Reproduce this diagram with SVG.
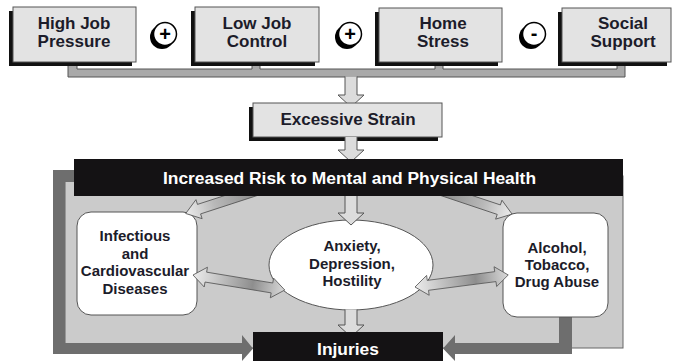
<svg xmlns="http://www.w3.org/2000/svg" width="674" height="361" viewBox="0 0 674 361">
<defs>
<linearGradient id="g1" x1="0" y1="0" x2="1" y2="0">
<stop offset="0" stop-color="#8a8a8a"/><stop offset="0.6" stop-color="#b8b8b8"/><stop offset="1" stop-color="#ececec"/>
</linearGradient>
<linearGradient id="g2" x1="0" y1="0" x2="1" y2="0">
<stop offset="0" stop-color="#ececec"/><stop offset="0.65" stop-color="#8e8e8e"/><stop offset="1" stop-color="#dadada"/>
</linearGradient>
<style>
.t{font-family:"Liberation Sans",Arial,Helvetica,sans-serif;font-weight:bold;text-anchor:middle;fill:#1c1c2a}
.top{font-size:17px}
.nd{font-size:15px}
.w{fill:#ffffff;font-size:17.4px}
.tb{fill:#e3e3e3;stroke:#555;stroke-width:1}
.sh{fill:#111}
.la{fill:#dcdcdc;stroke:#555;stroke-width:1}
.ga{fill:url(#g1);stroke:#555;stroke-width:0.8}
.da{fill:url(#g2);stroke:#555;stroke-width:0.8}
.nb{fill:#fff;stroke:#555;stroke-width:1}
.op{font-size:20px;fill:#000}
</style>
</defs>
<rect width="674" height="361" fill="#fff"/>

<!-- panel -->
<g id="panel">
<rect x="65" y="176" width="558" height="172" fill="#cbcbcb" stroke="#666" stroke-width="1"/>
</g>

<g id="connectors">
<path d="M68,62 H77 V69 H252 V62 H260 V69 H435 V62 H443 V69 H617 V62 H625 V77 H68 Z" fill="#a9a9a9" stroke="#555" stroke-width="1"/>
<path d="M53,170 H80 V182 H65 V343 H242 V335 L253,348.5 L242,361 V354 H53 Z" fill="#6e6e6e"/>
<path d="M572,312 V354 H455 V361 L443,348.5 L455,335 V343 H559 V312 Z" fill="#6e6e6e"/>
</g>

<g id="n-high">
<rect class="sh" x="9" y="11" width="123" height="55"/>
<rect class="tb" x="13" y="7" width="123" height="55"/>
<text class="t top" x="74" y="29">High Job</text>
<text class="t top" x="74" y="47">Pressure</text>
</g>
<g id="op1">
<circle cx="162" cy="37" r="12" fill="#000"/>
<circle cx="165" cy="34" r="11.5" fill="#fff" stroke="#000" stroke-width="1.5"/>
<text class="t op" x="165" y="41">+</text>
</g>
<g id="n-low">
<rect class="sh" x="191" y="11" width="124" height="55"/>
<rect class="tb" x="195" y="7" width="124" height="55"/>
<text class="t top" x="257" y="29">Low Job</text>
<text class="t top" x="257" y="47">Control</text>
</g>
<g id="op2">
<circle cx="347" cy="37" r="12" fill="#000"/>
<circle cx="350" cy="34" r="11.5" fill="#fff" stroke="#000" stroke-width="1.5"/>
<text class="t op" x="350" y="41">+</text>
</g>
<g id="n-home">
<rect class="sh" x="375" y="12" width="123" height="54"/>
<rect class="tb" x="379" y="8" width="123" height="54"/>
<text class="t top" x="443" y="29">Home</text>
<text class="t top" x="443" y="47">Stress</text>
</g>
<g id="op3">
<circle cx="531" cy="37" r="12" fill="#000"/>
<circle cx="534" cy="34" r="11.5" fill="#fff" stroke="#000" stroke-width="1.5"/>
<text class="t op" x="534" y="40">-</text>
</g>
<g id="n-social">
<rect class="sh" x="558" y="12" width="109" height="54"/>
<rect class="tb" x="562" y="8" width="109" height="54"/>
<text class="t top" x="623" y="29">Social</text>
<text class="t top" x="623" y="47">Support</text>
</g>

<g id="connectors2">
<path class="la" d="M345,76.5 V95 H338 L351,107 L364,95 H357 V76.5"/>
</g>

<g id="n-strain">
<rect class="sh" x="249" y="107" width="189" height="34"/>
<rect class="tb" x="253" y="103" width="189" height="34"/>
<text class="t top" x="348" y="125">Excessive Strain</text>
</g>

<g id="n-infect">
<rect class="nb" x="77" y="212" width="120" height="103" rx="14"/>
<text class="t nd" x="135" y="241">Infectious</text>
<text class="t nd" x="135" y="258.5">and</text>
<text class="t nd" x="135" y="276">Cardiovascular</text>
<text class="t nd" x="135" y="293.5">Diseases</text>
</g>
<g id="n-alcohol">
<rect class="nb" x="503" y="213" width="105" height="104" rx="14"/>
<text class="t nd" x="557" y="253">Alcohol,</text>
<text class="t nd" x="557" y="270">Tobacco,</text>
<text class="t nd" x="557" y="287">Drug Abuse</text>
</g>
<g id="n-anxiety">
<ellipse class="nb" cx="351" cy="265" rx="82" ry="45"/>
<text class="t nd" x="352" y="251">Anxiety,</text>
<text class="t nd" x="352" y="268.5">Depression,</text>
<text class="t nd" x="352" y="286">Hostility</text>
</g>

<g id="connectors3">
<path class="ga" transform="translate(258,190) rotate(162)" d="M0,-5 H62 V-10 L76,0 L62,10 V5 H0 Z"/>
<path class="ga" transform="translate(440,190) rotate(18.5)" d="M0,-5 H62 V-10 L76,0 L62,10 V5 H0 Z"/>
<path class="da" transform="translate(193,275) rotate(9.3)" d="M0,0 L13,-10 V-5 H80 V-10 L93,0 L80,10 V5 H13 V10 Z"/>
<path class="da" transform="translate(415,287) rotate(-7.35)" d="M0,0 L13,-10 V-5 H81 V-10 L94,0 L81,10 V5 H13 V10 Z"/>
<path class="la" d="M345,137 V150 H338 L351,162 L364,150 H357 V137"/>
<path class="la" d="M345,190 V213 H338 L351,225 L364,213 H357 V190"/>
<path class="la" d="M345,309.5 V325 H338 L351,337 L364,325 H357 V309.5"/>
</g>

<g id="n-risk">
<rect x="74" y="159" width="549" height="37" fill="#141214"/>
<text class="t w" x="349.5" y="183.5">Increased Risk to Mental and Physical Health</text>
</g>
<g id="n-injuries">
<rect x="253" y="332" width="190" height="32" fill="#141214"/>
<text class="t w" x="348" y="355">Injuries</text>
</g>
</svg>
